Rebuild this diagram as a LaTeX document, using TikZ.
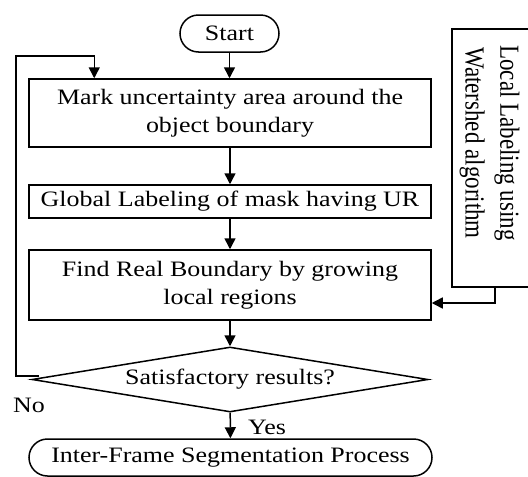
\documentclass[tikz,border=0pt]{standalone}
\usepackage{fontspec}
\setmainfont[FakeStretch=1.18]{Liberation Serif}
\newfontfamily\plainserif{Liberation Serif}
\usetikzlibrary{shapes.geometric,shapes.misc,arrows.meta}
\begin{document}
\begin{tikzpicture}[x=1pt,y=-1pt,
  every node/.style={font=\fontsize{22}{27.5}\selectfont},
  proc/.style={draw, line width=1.5pt, rectangle, minimum width=402pt, inner sep=0pt, align=center},
  term/.style={draw, line width=1.5pt, rounded rectangle, inner sep=0pt},
  decis/.style={draw, line width=1.5pt, diamond, shape aspect=6, inner sep=0pt, minimum width=396pt, minimum height=65pt},
  arr/.style={line width=1.5pt, -{Triangle[length=11pt,width=11pt]}},
  lbl/.style={inner sep=0pt}]
\useasboundingbox (0,0) rectangle (528,477);
\node[term, minimum width=99pt, minimum height=37pt] (start) at (229.5,33.5) {Start};
\node[proc, minimum height=68pt] (mark) at (230,113) {Mark uncertainty area around the\\object boundary};
\node[proc, minimum height=33pt] (global) at (230,201.5) {Global Labeling of mask having UR};
\node[proc, minimum height=70pt] (find) at (230,285) {Find Real Boundary by growing\\local regions};
\node[decis] (dia) at (230,379.5) {Satisfactory results?};
\node[term, minimum width=403pt, minimum height=37pt] (end) at (230.5,457.5) {Inter-Frame Segmentation Process};
\node[draw, line width=1.5pt, rectangle, minimum width=79pt, minimum height=258pt, inner sep=0pt] (local) at (491.5,158) {};
\node[lbl] (localtxt) at (490,143) {\scalebox{1.2}[1]{\rotatebox{-90}{\plainserif\fontsize{23}{29}\selectfont\begin{tabular}{@{}c@{}}Local Labeling using\\Watershed algorithm\end{tabular}}}};
\node[lbl] (no) at (29,405) {No};
\node[lbl, anchor=west] (yes) at (248,427) {Yes};
\draw[arr] (start.south) -- (start.south |- mark.north);
\draw[arr] (mark) -- (global);
\draw[arr] (global) -- (find);
\draw[arr] (find) -- (dia);
\draw[arr] (dia) -- (end);
\draw[arr] ([shift={(8,-3.5)}]dia.west) -| (16,56) -| ([xshift=66pt]mark.north west);
\draw[arr] ([shift={(3.5,0)}]local.south) |- ([shift={(0,18)}]find.east);
\end{tikzpicture}
\end{document}
